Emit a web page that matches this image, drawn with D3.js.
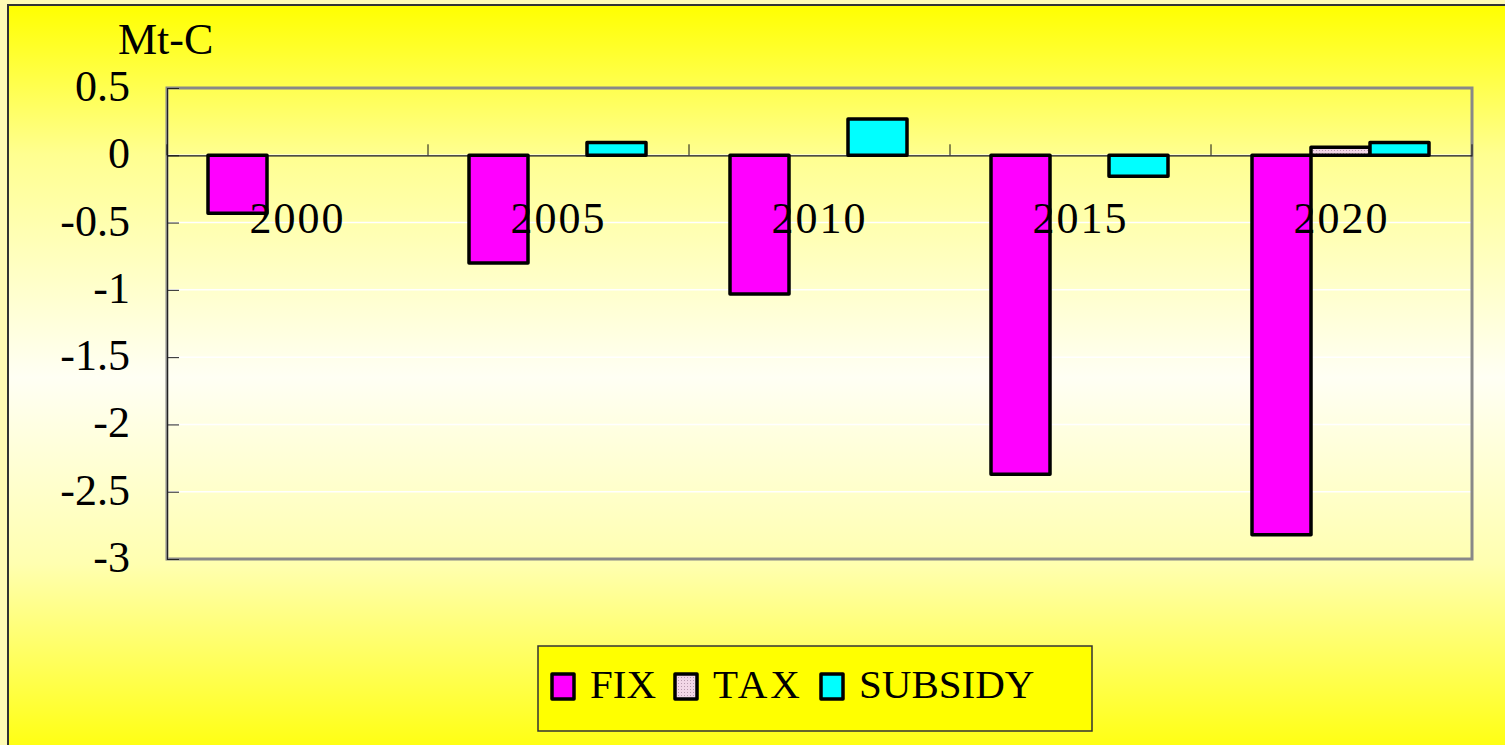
<!DOCTYPE html>
<html>
<head>
<meta charset="utf-8">
<script src="https://cdn.jsdelivr.net/npm/d3@7"></script>
<style>
  body { margin: 0; background: #fffbb4; }
  svg { display: block; }
  text { font-family: "Liberation Serif", "Times New Roman", Times, serif; }
</style>
</head>
<body>
<svg id="chart"></svg>
<script>
const width = 1505, height = 745;

// data
const years = ["2000", "2005", "2010", "2015", "2020"];
const seriesNames = ["FIX", "TAX", "SUBSIDY"];
const fix = [-0.43, -0.80, -1.03, -2.37, -2.82];
const tax = [0, 0, 0, 0, 0.06];
const subsidy = [0, 0.095, 0.27, -0.155, 0.095];
const yTicks = [0.5, 0, -0.5, -1, -1.5, -2, -2.5, -3];

const seriesValues = [fix, tax, subsidy];
const colors = ["#ff00ff", "url(#taxPattern)", "#00ffff"];

const svg = d3.select("#chart")
  .attr("width", width)
  .attr("height", height);

const defs = svg.append("defs");
const grad = defs.append("linearGradient")
  .attr("id", "bg")
  .attr("x1", 0).attr("y1", 0).attr("x2", 0).attr("y2", 1);
grad.append("stop").attr("offset", "0").attr("stop-color", "#ffff00");
grad.append("stop").attr("offset", "0.2").attr("stop-color", "#ffff90");
grad.append("stop").attr("offset", "0.5").attr("stop-color", "#fffff4");
grad.append("stop").attr("offset", "0.75").attr("stop-color", "#ffffb0");
grad.append("stop").attr("offset", "1").attr("stop-color", "#ffff10");

const pat = defs.append("pattern")
  .attr("id", "taxPattern")
  .attr("width", 3).attr("height", 3)
  .attr("patternUnits", "userSpaceOnUse");
pat.append("rect").attr("width", 3).attr("height", 3).attr("fill", "#f2d6e6");
pat.append("rect").attr("width", 1).attr("height", 1).attr("fill", "#b89aae");

// outer frame with gradient
svg.append("rect")
  .attr("x", 8).attr("y", 5)
  .attr("width", width).attr("height", height)
  .attr("fill", "url(#bg)")
  .attr("stroke", "#333")
  .attr("stroke-width", 2);

const margin = {left: 167, top: 88, right: 1472, bottom: 559};

const x0 = d3.scaleBand()
  .domain(years)
  .range([margin.left, margin.right]);

const x1 = d3.scaleBand()
  .domain(seriesNames)
  .range([41, x0.bandwidth() - 43]);

const y = d3.scaleLinear()
  .domain([-3, 0.5])
  .range([margin.bottom, margin.top]);

// gridlines
svg.append("g")
  .selectAll("line")
  .data(yTicks)
  .join("line")
  .attr("x1", margin.left).attr("x2", margin.right)
  .attr("y1", d => y(d)).attr("y2", d => y(d))
  .attr("stroke", "#ffffff")
  .attr("stroke-width", 1.5);

// plot border
svg.append("rect")
  .attr("x", margin.left).attr("y", margin.top)
  .attr("width", margin.right - margin.left)
  .attr("height", margin.bottom - margin.top)
  .attr("fill", "none")
  .attr("stroke", "#888")
  .attr("stroke-width", 3);

// y axis
const yAxis = svg.append("g")
  .attr("transform", `translate(${margin.left},0)`)
  .call(d3.axisRight(y).tickValues(yTicks).tickSize(12).tickFormat(""));
yAxis.select(".domain").attr("stroke", "#222").attr("stroke-width", 1);
yAxis.selectAll(".tick line").attr("stroke", "#222");

svg.append("g")
  .selectAll("text")
  .data(yTicks)
  .join("text")
  .attr("x", 130)
  .attr("y", d => y(d) + 13)
  .attr("text-anchor", "end")
  .attr("font-size", 44)
  .text(d => String(d));

svg.append("text")
  .attr("x", 118).attr("y", 54)
  .attr("font-size", 44)
  .text("Mt-C");

// zero line with category ticks
const xAxis = svg.append("g")
  .attr("transform", `translate(0,${y(0)})`)
  .call(d3.axisTop(x0).tickSize(0).tickFormat(""));
xAxis.select(".domain").attr("stroke", "#111").attr("stroke-width", 1.2);
xAxis.selectAll(".tick").remove();

svg.append("g")
  .selectAll("line")
  .data(d3.range(years.length + 1))
  .join("line")
  .attr("x1", i => margin.left + i * x0.bandwidth())
  .attr("x2", i => margin.left + i * x0.bandwidth())
  .attr("y1", y(0)).attr("y2", y(0) - 11)
  .attr("stroke", "#111");

// bars
const groups = svg.append("g")
  .selectAll("g")
  .data(years)
  .join("g")
  .attr("transform", d => `translate(${x0(d)},0)`);

groups.selectAll("rect")
  .data((d, i) => seriesNames.map((s, j) => ({s, j, v: seriesValues[j][i]})))
  .join("rect")
  .filter(d => d.v !== 0)
  .attr("x", d => x1(d.s))
  .attr("width", x1.bandwidth())
  .attr("y", d => y(Math.max(0, d.v)))
  .attr("height", d => Math.abs(y(d.v) - y(0)))
  .attr("fill", d => colors[d.j])
  .attr("stroke", "#000")
  .attr("stroke-width", 3.5)
  .attr("stroke-linejoin", "round");

// category labels
svg.append("g")
  .selectAll("text")
  .data(years)
  .join("text")
  .attr("x", d => x0(d) + x0.bandwidth() / 2)
  .attr("y", 233)
  .attr("text-anchor", "middle")
  .attr("font-size", 44)
  .attr("letter-spacing", "2px")
  .text(d => d);

// legend
const legend = svg.append("g");
legend.append("rect")
  .attr("x", 538).attr("y", 646)
  .attr("width", 554).attr("height", 85)
  .attr("fill", "#ffff00")
  .attr("stroke", "#333")
  .attr("stroke-width", 1.5);

const legendX = [552, 675, 821];
const legendItems = legend.selectAll("g")
  .data(seriesNames)
  .join("g")
  .attr("transform", (d, i) => `translate(${legendX[i]},674)`);

legendItems.append("rect")
  .attr("width", 22).attr("height", 25)
  .attr("fill", (d, i) => colors[i])
  .attr("stroke", "#000")
  .attr("stroke-width", 3.5)
  .attr("stroke-linejoin", "round");

legendItems.append("text")
  .attr("x", 38).attr("y", 24)
  .attr("font-size", 41)
  .attr("letter-spacing", d => d === "TAX" ? "3px" : "0")
  .text(d => d);
</script>
</body>
</html>
